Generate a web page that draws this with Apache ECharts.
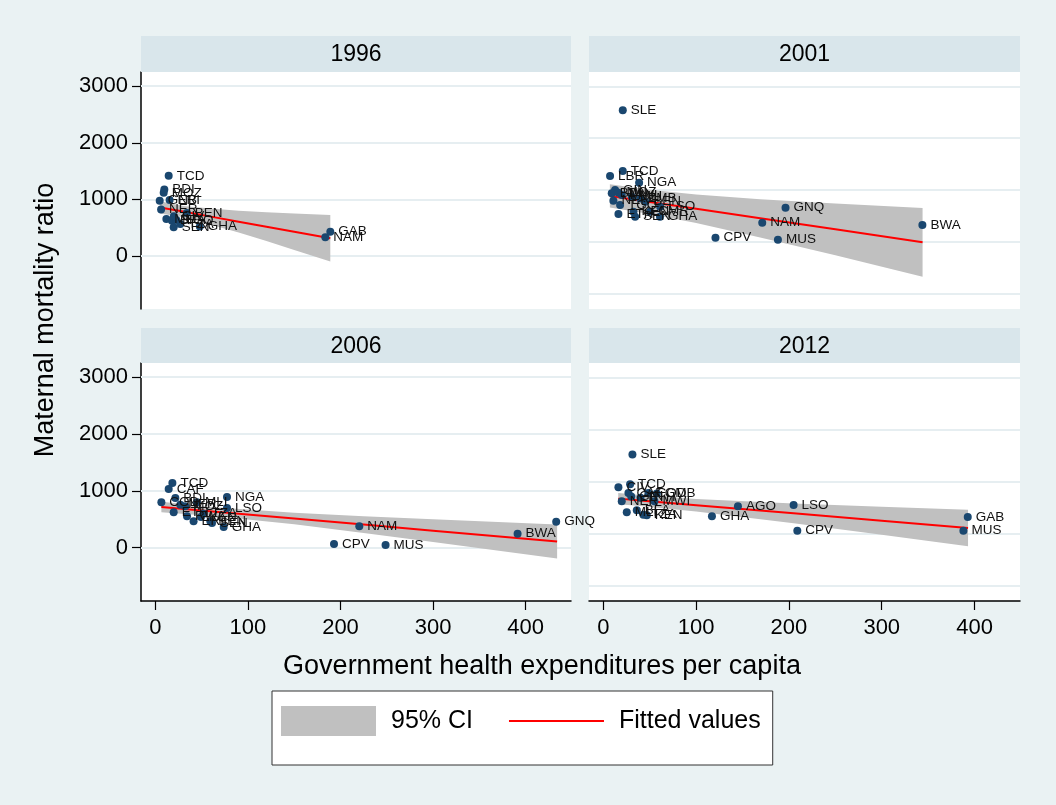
<!DOCTYPE html>
<html>
<head>
<meta charset="utf-8">
<script src="https://cdn.jsdelivr.net/npm/echarts@6/dist/echarts.min.js"></script>
<style>
html,body{margin:0;padding:0;background:#eaf2f3;}
#chart{width:1056px;height:805px;}
</style>
</head>
<body>
<div id="chart"></div>
<script>
// ---------------- data ----------------
const years = ['1996', '2001', '2006', '2012'];

const codes1996 = ['TCD','BDI','MOZ','GNB','ERI','NER','MLI','BFA','SEN','TGO','TZA','BEN','GHA','CIV','GAB','NAM'];
const ghe1996   = [14.4, 9.7, 9.0, 4.7, 15.4, 6.2, 11.9, 18.0, 19.8, 22.7, 27.0, 34.0, 48.0, 20.0, 189.0, 183.6];
const mmr1996   = [1416, 1176, 1116, 975, 988, 823, 653, 623, 506, 635, 564, 758, 520, 700, 429, 329];

const codes2001 = ['SLE','TCD','LBR','NGA','GIN','BDI','MOZ','NER','MWI','TGO','MLI','BEN','ZMB','ETH','KEN','SEN','LSO','GHA','CMR','GNQ','NAM','CPV','MUS','BWA'];
const ghe2001   = [20.9, 20.9, 7.2, 38.5, 12.6, 9.0, 16.2, 10.8, 19.8, 18.0, 30.6, 45.0, 39.6, 16.2, 32.4, 34.2, 61.2, 61.0, 50.4, 196.3, 171.2, 120.8, 188.1, 343.8];
const mmr2001   = [2575, 1499, 1411, 1293, 1164, 1106, 1117, 975, 1076, 900, 1046, 958, 1017, 741, 781, 693, 870, 693, 781, 852, 587, 323, 288, 547];

const codes2006 = ['TCD','CAF','COD','BDI','NER','MOZ','MLI','ETH','RWA','ERI','KEN','BEN','SEN','TZA','NGA','LSO','GHA','NAM','CPV','MUS','BWA','GNQ'];
const ghe2006   = [18.4, 14.4, 6.5, 21.6, 27.0, 32.4, 45.0, 19.8, 34.2, 41.3, 49.3, 59.4, 61.2, 52.0, 77.4, 77.4, 73.8, 220.3, 193.0, 248.7, 391.3, 433.0];
const mmr2006   = [1141, 1035, 799, 876, 758, 729, 799, 623, 552, 464, 541, 464, 435, 600, 894, 700, 365, 376, 65, 48, 247, 459];

const codes2012 = ['SLE','TCD','CIV','CAF','NER','GMB','COD','MWI','MLI','BFA','TZA','KEN','ETH','GIN','AGO','LSO','GHA','CPV','GAB','MUS'];
const ghe2012   = [31.3, 28.8, 16.2, 27.0, 19.8, 57.6, 48.5, 55.0, 25.2, 36.0, 43.1, 46.8, 40.0, 30.0, 145.0, 205.0, 117.0, 209.0, 392.7, 388.0];
const mmr2012   = [1640, 1116, 1064, 964, 817, 952, 964, 820, 623, 658, 582, 570, 880, 900, 729, 753, 552, 300, 541, 300];

// fitted line and 95% CI band, read at a few x positions
const fitX1996 = [5, 30, 60, 90, 120, 150, 189];
const fitY1996 = [858, 784, 695, 606, 517, 428, 312];
const ciLo1996 = [748, 684, 552, 414, 263, 107, -100];
const ciHi1996 = [968, 884, 838, 798, 771, 749, 724];

const fitX2001 = [7, 50, 100, 169, 250, 344];
const fitY2001 = [1060, 955, 834, 666, 470, 241];
const ciLo2001 = [855, 741, 581, 328, 12, -367];
const ciHi2001 = [1265, 1169, 1087, 1004, 928, 849];

const fitX2006 = [6.5, 68, 150, 225, 300, 434];
const fitY2006 = [717, 630, 514, 407, 301, 111];
const ciLo2006 = [624, 551, 412, 260, 101, -189];
const ciHi2006 = [810, 709, 616, 554, 501, 411];

const fitX2012 = [16, 37, 100, 205, 300, 393];
const fitY2012 = [864, 835, 749, 605, 474, 347];
const ciLo2012 = [767, 740, 639, 431, 227, 24];
const ciHi2012 = [961, 930, 859, 779, 721, 670];

const yTicks = [0, 1000, 2000, 3000];
const xTicks = [0, 100, 200, 300, 400];
const rightGridValues = [2995, 2080, 1164, 250, -665];

// ---------------- chart ----------------
const FONT = '"Liberation Sans", Arial, sans-serif';
const BG = '#eaf2f3';
const HEAD = '#d9e6eb';
const GRIDC = '#e6eef1';

const panels = [
  {codes: codes1996, x: ghe1996, y: mmr1996, fx: fitX1996, fy: fitY1996, lo: ciLo1996, hi: ciHi1996},
  {codes: codes2001, x: ghe2001, y: mmr2001, fx: fitX2001, fy: fitY2001, lo: ciLo2001, hi: ciHi2001},
  {codes: codes2006, x: ghe2006, y: mmr2006, fx: fitX2006, fy: fitY2006, lo: ciLo2006, hi: ciHi2006},
  {codes: codes2012, x: ghe2012, y: mmr2012, fx: fitX2012, fy: fitY2012, lo: ciLo2012, hi: ciHi2012}
];

const gridBoxes = [
  {left: 141, top: 72, width: 430, height: 237},
  {left: 589, top: 72, width: 431, height: 237},
  {left: 141, top: 363, width: 430, height: 238},
  {left: 589, top: 363, width: 431, height: 238}
];

const X_MIN = -15.5, X_MAX = 449, Y_MIN = -937, Y_MAX = 3250;

const grid = gridBoxes.map(g => Object.assign({backgroundColor: '#ffffff', show: true, borderWidth: 0}, g));

const plain = v => String(v);

const xAxis = gridBoxes.map((g, i) => {
  const bottom = i >= 2;
  return {
    type: 'value', gridIndex: i, min: X_MIN, max: X_MAX,
    show: bottom,
    axisLine: {show: true, onZero: false, lineStyle: {color: '#000', width: 1.5}},
    axisTick: {show: true, length: 9, lineStyle: {color: '#000', width: 1.2}, customValues: xTicks},
    axisLabel: {show: true, customValues: xTicks, formatter: plain, fontSize: 22, color: '#000', fontFamily: FONT, margin: 16},
    splitLine: {show: false}
  };
});

const yAxis = gridBoxes.map((g, i) => {
  const left = (i % 2 === 0);
  return {
    type: 'value', gridIndex: i, min: Y_MIN, max: Y_MAX,
    show: left,
    axisLine: {show: true, onZero: false, lineStyle: {color: '#000', width: 1.5}},
    axisTick: {show: true, length: 9, lineStyle: {color: '#000', width: 1.2}, customValues: yTicks},
    axisLabel: {show: true, customValues: yTicks, formatter: plain, fontSize: 22, color: '#000', fontFamily: FONT, margin: 13},
    splitLine: {show: false}
  };
});

const series = [];
panels.forEach((p, i) => {
  const gridVals = (i % 2 === 0) ? yTicks : rightGridValues;
  // gridlines (behind everything)
  series.push({
    type: 'scatter', xAxisIndex: i, yAxisIndex: i, data: [], z: 1, silent: true,
    markLine: {
      z: 1, zlevel: 0,
      silent: true, symbol: ['none', 'none'], label: {show: false},
      lineStyle: {type: 'solid', color: GRIDC, width: 2},
      emphasis: {disabled: true},
      data: gridVals.map(v => ({yAxis: v}))
    }
  });
  // CI band
  series.push({
    name: '95% CI', type: 'custom', xAxisIndex: i, yAxisIndex: i, z: 2, silent: true,
    itemStyle: {color: '#c0c0c0'},
    data: [[p.fx[0], p.fy[0]]],
    renderItem: (params, api) => {
      const pts = [];
      for (let k = 0; k < p.fx.length; k++) pts.push(api.coord([p.fx[k], p.hi[k]]));
      for (let k = p.fx.length - 1; k >= 0; k--) pts.push(api.coord([p.fx[k], p.lo[k]]));
      return {type: 'polygon', shape: {points: pts}, style: {fill: '#c0c0c0', stroke: null}};
    }
  });
  // fitted line
  series.push({
    name: 'Fitted values', type: 'line', xAxisIndex: i, yAxisIndex: i, z: 3, silent: true,
    data: p.fx.map((x, k) => [x, p.fy[k]]),
    showSymbol: false, symbol: 'none', smooth: false,
    lineStyle: {color: '#ff0000', width: 2},
    itemStyle: {color: '#ff0000'}
  });
  // scatter points with country labels
  series.push({
    type: 'scatter', xAxisIndex: i, yAxisIndex: i, z: 4, silent: true,
    symbolSize: 8,
    itemStyle: {color: '#1a476f', opacity: 1},
    data: p.x.map((x, k) => [x, p.y[k], p.codes[k]]),
    label: {
      show: true, position: 'right', distance: 4,
      formatter: (d) => d.value[2],
      fontSize: 13.5, color: '#111', fontFamily: FONT
    },
    labelLayout: {hideOverlap: false},
    animation: false
  });
});

const graphic = [];
gridBoxes.forEach((g, i) => {
  const top = i < 2 ? 36 : 328;
  graphic.push({
    type: 'rect', silent: true, z: 10,
    shape: {x: g.left, y: top, width: g.width, height: (g.top - top)},
    style: {fill: HEAD}
  });
  graphic.push({
    type: 'text', silent: true, z: 11,
    x: g.left + g.width / 2, y: top + (g.top - top) / 2 + 1,
    style: {text: years[i], fontSize: 23, fontFamily: FONT, fill: '#000', textAlign: 'center', textVerticalAlign: 'middle'}
  });
});
graphic.push({
  type: 'text', silent: true, z: 11, x: 46, y: 320, rotation: Math.PI / 2,
  style: {text: 'Maternal mortality ratio', fontSize: 27, fontFamily: FONT, fill: '#000', textAlign: 'center', textVerticalAlign: 'middle'}
});
graphic.push({
  type: 'text', silent: true, z: 11, x: 542, y: 667,
  style: {text: 'Government health expenditures per capita', fontSize: 27, fontFamily: FONT, fill: '#000', textAlign: 'center', textVerticalAlign: 'middle'}
});

const option = {
  backgroundColor: BG,
  animation: false,
  textStyle: {fontFamily: FONT},
  grid, xAxis, yAxis, series, graphic,
  legend: {
    left: 272, top: 691,
    padding: [15, 12, 29, 9],
    backgroundColor: '#ffffff', borderColor: '#333', borderWidth: 1,
    itemWidth: 95, itemHeight: 30, itemGap: 36,
    selectedMode: false,
    textStyle: {fontSize: 25, color: '#000', fontFamily: FONT, padding: [0, 0, 0, 10]},
    data: [
      {name: '95% CI', icon: 'rect', itemStyle: {color: '#c0c0c0'}},
      {name: 'Fitted values', icon: 'path://M0,0 L100,0 L100,2.2 L0,2.2 Z', itemStyle: {color: '#ff0000'}}
    ]
  }
};

const chart = echarts.init(document.getElementById('chart'), null, {renderer: 'canvas'});
chart.setOption(option);
</script>
</body>
</html>
